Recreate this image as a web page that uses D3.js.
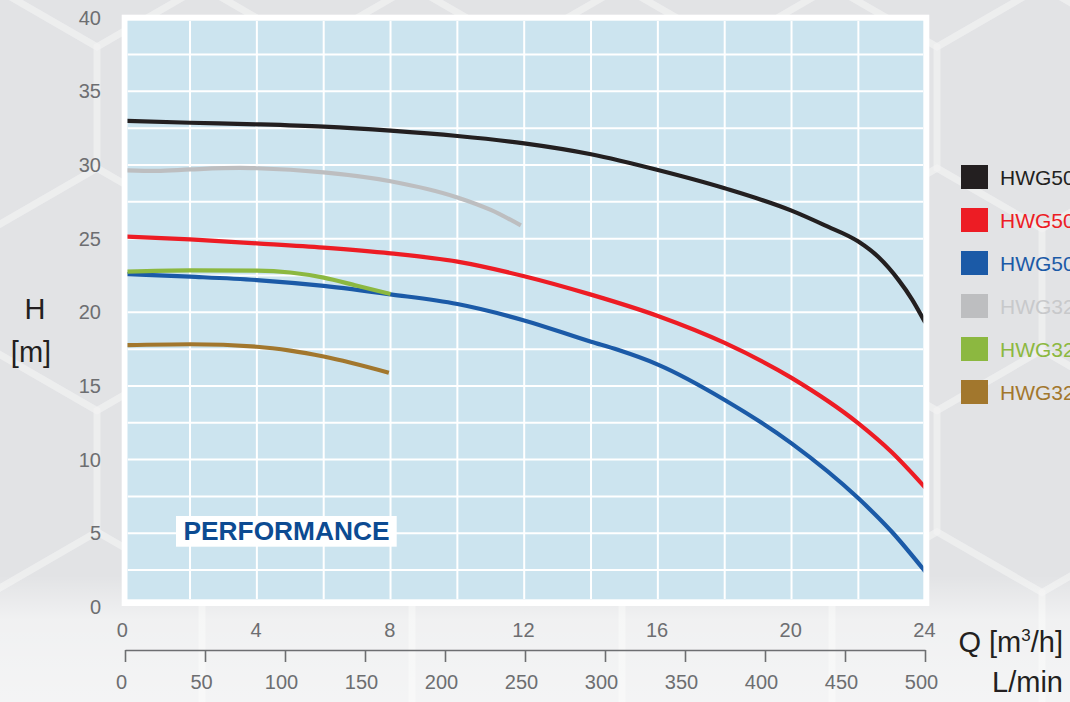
<!DOCTYPE html>
<html>
<head>
    <meta charset="utf-8">
    <title>Performance</title>
    <style>
        body { margin: 0; background: #e2e3e5; overflow: hidden; }
        text { font-family: Arial, "Liberation Sans", sans-serif; }
    </style>
</head>
<body>
    <script src="https://cdnjs.cloudflare.com/ajax/libs/d3/7.9.0/d3.min.js"></script>
    <script>

        // series: [Q m3/h, H m]
        const seriesNames = ["HWG50", "HWG50", "HWG50", "HWG32", "HWG32", "HWG32"];
        const hwgBlack = [[0,33.0],[2,32.87],[4,32.76],[6,32.6],[8,32.33],[10,31.97],[12,31.47],[14,30.73],[16,29.66],[18,28.42],[20,26.9],[21,25.9],[22,24.8],[22.6,23.75],[23.2,22.2],[23.6,20.9],[24,19.3]];
        const hwgRed = [[0,25.15],[2,24.95],[4,24.68],[6,24.39],[8,24.0],[10,23.44],[12,22.45],[14,21.2],[16,19.75],[18,17.92],[20,15.55],[22,12.46],[23,10.5],[24,8.1]];
        const hwgBlue = [[0,22.6],[2,22.42],[4,22.19],[6,21.79],[8,21.22],[10,20.56],[12,19.45],[14,18.0],[14.8,17.45],[16,16.45],[18,14.05],[20,11.1],[22,7.37],[23,5.1],[24,2.4]];
        const hwgGray = [[0,29.65],[1,29.6],[2,29.7],[3.5,29.8],[4,29.78],[6,29.5],[8,28.9],[10,27.8],[11,26.95],[11.9,25.9]];
        const hwgGreen = [[0,22.76],[2,22.85],[4,22.83],[5,22.7],[6,22.35],[7,21.8],[8,21.24]];
        const hwgBrown = [[0,17.76],[2,17.83],[4,17.66],[5,17.4],[6,17.0],[7.95,15.9]];
        const seriesData = [hwgBlack, hwgRed, hwgBlue, hwgGray, hwgGreen, hwgBrown];

        const hTicks = [0, 5, 10, 15, 20, 25, 30, 35, 40];
        const qTicks = [0, 4, 8, 12, 16, 20, 24];
        const lpmTicks = [0, 50, 100, 150, 200, 250, 300, 350, 400, 450, 500];

        const colors = ["#231f20", "#ed1c24", "#1b5aa7", "#bdbec0", "#8cb840", "#a2772d"];
        const textColors = ["#231f20", "#ed1c24", "#1b5aa7", "#c8c9cb", "#8cb840", "#a2772d"];

        const width = 1070, height = 702;

        const svg = d3.select("body").append("svg")
            .attr("width", width)
            .attr("height", height);

        const defs = svg.append("defs");

        // background hex pattern
        const W = 210, s = W / Math.sqrt(3), rowStep = 1.5 * s;
        const hexG = svg.append("g")
            .attr("fill", "none")
            .attr("stroke", "#ffffff")
            .attr("stroke-opacity", 0.22)
            .attr("stroke-width", 7);
        for (let r = -1; r < 5; r++) {
            const cy = 107.5 + r * rowStep;
            const off = (r % 2 === 0) ? -8 : 97;
            for (let c = -1; c < 7; c++) {
                const cx = off + c * W;
                const pts = d3.range(6).map(i => {
                    const a = Math.PI / 180 * (60 * i - 90);
                    return [cx + s * Math.cos(a), cy + s * Math.sin(a)];
                });
                hexG.append("path").attr("d", "M" + pts.join("L") + "Z");
            }
        }

        const fade = defs.append("linearGradient")
            .attr("id", "fade").attr("x1", 0).attr("y1", 0).attr("x2", 0).attr("y2", 1);
        fade.append("stop").attr("offset", "0").attr("stop-color", "#fff").attr("stop-opacity", 0);
        fade.append("stop").attr("offset", "0.35").attr("stop-color", "#fff").attr("stop-opacity", 0.5);
        fade.append("stop").attr("offset", "1").attr("stop-color", "#fff").attr("stop-opacity", 0.62);
        svg.append("rect")
            .attr("x", 0).attr("y", 575).attr("width", width).attr("height", height - 575)
            .attr("fill", "url(#fade)");

        const x = d3.scaleLinear().domain([0, 24]).range([123.2, 925.2]);
        const y = d3.scaleLinear().domain([0, 40]).range([606.9, 17.7]);
        const xl = d3.scaleLinear().domain([0, 500]).range([125, 925]);

        // plot frame
        svg.append("rect")
            .attr("x", 121.7).attr("y", 14.7).attr("width", 929.3 - 121.7).attr("height", 606 - 14.7)
            .attr("fill", "#ffffff");
        const plot = {x0: 127.5, x1: 923.3, y0: 20.7, y1: 599.3};
        svg.append("rect")
            .attr("x", plot.x0).attr("y", plot.y0)
            .attr("width", plot.x1 - plot.x0).attr("height", plot.y1 - plot.y0)
            .attr("fill", "#cce4ef");

        defs.append("clipPath").attr("id", "clip")
            .append("rect")
            .attr("x", plot.x0).attr("y", plot.y0)
            .attr("width", plot.x1 - plot.x0).attr("height", plot.y1 - plot.y0);

        const grid = svg.append("g").attr("clip-path", "url(#clip)")
            .attr("stroke", "#ffffff").attr("stroke-width", 2);
        grid.selectAll(".gx")
            .data(d3.range(2, 24, 2))
            .enter().append("line")
            .attr("x1", d => x(d)).attr("x2", d => x(d))
            .attr("y1", plot.y0).attr("y2", plot.y1);
        grid.selectAll(".gy")
            .data(d3.range(2.5, 40, 2.5))
            .enter().append("line")
            .attr("y1", d => y(d)).attr("y2", d => y(d))
            .attr("x1", plot.x0).attr("x2", plot.x1);

        // performance label
        svg.append("rect")
            .attr("x", 176).attr("y", 516).attr("width", 220.7).attr("height", 30.7)
            .attr("fill", "#ffffff");
        svg.append("text")
            .attr("x", 183.5).attr("y", 540)
            .attr("textLength", 206).attr("lengthAdjust", "spacingAndGlyphs")
            .attr("font-size", 25).attr("font-weight", "bold")
            .attr("fill", "#0c4b92")
            .text("PERFORMANCE");

        // curves
        const line = d3.line()
            .x(d => x(d[0]))
            .y(d => y(d[1]))
            .curve(d3.curveMonotoneX);

        svg.append("g").attr("clip-path", "url(#clip)")
            .selectAll("path")
            .data(seriesData)
            .enter().append("path")
            .attr("d", line)
            .attr("fill", "none")
            .attr("stroke", (d, i) => colors[i])
            .attr("stroke-width", 4.2);

        // y axis labels
        const yAxis = svg.append("g")
            .attr("transform", "translate(101,0)")
            .call(d3.axisLeft(y).tickValues(hTicks).tickSize(0).tickPadding(0));
        yAxis.select(".domain").remove();
        yAxis.selectAll("text")
            .attr("font-size", 20).attr("fill", "#6d6e71")
            .attr("font-family", "Arial, 'Liberation Sans', sans-serif")
            .attr("dy", "0.33em");

        // Q labels
        const qAxis = svg.append("g")
            .attr("transform", "translate(-1.3,623)")
            .call(d3.axisBottom(x).tickValues(qTicks).tickSize(0).tickPadding(0));
        qAxis.select(".domain").remove();
        qAxis.selectAll("text")
            .attr("font-size", 20).attr("fill", "#6d6e71")
            .attr("font-family", "Arial, 'Liberation Sans', sans-serif")
            .attr("y", 0).attr("dy", "0.71em");

        // L/min axis
        const lAxis = svg.append("g")
            .attr("transform", "translate(0,650)");
        lAxis.call(d3.axisBottom(xl).tickValues(lpmTicks.slice(0, -1).map(v => v + 25)).tickSize(6).tickFormat(""));
        lAxis.call(d3.axisBottom(xl).tickValues(lpmTicks).tickSize(12).tickSizeOuter(0).tickPadding(0));
        lAxis.selectAll(".domain").attr("stroke", "#6d6e71").attr("stroke-width", 1.6);
        lAxis.selectAll(".tick line").attr("stroke", "#6d6e71").attr("stroke-width", 1.6);
        lAxis.selectAll("text")
            .attr("font-size", 20).attr("fill", "#6d6e71")
            .attr("font-family", "Arial, 'Liberation Sans', sans-serif")
            .attr("x", -4).attr("y", 25).attr("dy", "0.71em");

        // axis titles
        const title = svg.append("g").attr("fill", "#231f20").attr("font-size", 29);
        title.append("text").attr("x", 35).attr("y", 318.5).attr("text-anchor", "middle").text("H");
        title.append("text").attr("x", 31).attr("y", 362).attr("text-anchor", "middle").text("[m]");
        const qt = title.append("text").attr("x", 1063).attr("y", 652).attr("text-anchor", "end");
        qt.append("tspan").text("Q [m");
        qt.append("tspan").attr("font-size", 17).attr("dy", -11).text("3");
        qt.append("tspan").attr("dy", 11).text("/h]");
        title.append("text").attr("x", 1063).attr("y", 692).attr("text-anchor", "end").text("L/min");

        // legend (cut at the right edge, as in the reference)
        const legend = svg.append("g")
            .selectAll("g")
            .data(seriesNames)
            .enter().append("g")
            .attr("transform", (d, i) => `translate(961,${177 + i * 43})`);
        legend.append("rect")
            .attr("x", 0).attr("y", -12).attr("width", 27).attr("height", 24)
            .attr("fill", (d, i) => colors[i]);
        legend.append("text")
            .attr("x", 39).attr("y", 7.5)
            .attr("font-size", 21)
            .attr("fill", (d, i) => textColors[i])
            .text(d => d);

    </script>
</body>
</html>
